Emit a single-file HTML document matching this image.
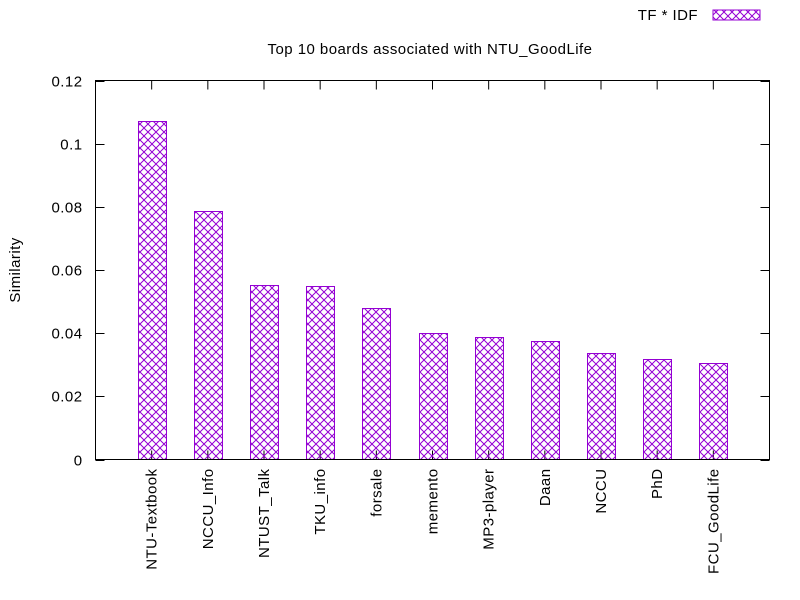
<!DOCTYPE html>
<html><head><meta charset="utf-8"><style>
body{margin:0;background:#fff}
svg{display:block}
text{font-family:"Liberation Sans",sans-serif;font-size:15px;letter-spacing:0.45px;fill:#000}
</style></head><body>
<svg id="chart" width="800" height="600" xmlns="http://www.w3.org/2000/svg">
<defs>
<pattern id="hatch" patternUnits="userSpaceOnUse" width="8" height="8">
<path d="M0,0 L8,8 M8,0 L0,8" stroke="#9400d3" stroke-width="1" fill="none"/>
</pattern>
</defs>
<text x="430" y="54" text-anchor="middle">Top 10 boards associated with NTU_GoodLife</text>
<text transform="translate(20,270) rotate(-90)" text-anchor="middle">Similarity</text>
<g>
<text x="698" y="20" text-anchor="end">TF * IDF</text>
<rect x="713" y="10" width="47" height="10" fill="url(#hatch)" stroke="#9400d3"/>
</g>
<g id="axes"></g>
<g id="bars"></g>
<rect x="95.5" y="80.5" width="674" height="379" fill="none" stroke="#000"/>
</svg>
<script>
const categories=["NTU-Textbook","NCCU_Info","NTUST_Talk","TKU_info","forsale","memento","MP3-player","Daan","NCCU","PhD","FCU_GoodLife"];
const values=[0.1073,0.0788,0.0551,0.0548,0.0481,0.0399,0.0389,0.0374,0.0336,0.0317,0.0307];
const yTicks=[0,0.02,0.04,0.06,0.08,0.1,0.12];
const yTickLabels=["0","0.02","0.04","0.06","0.08","0.1","0.12"];
const L=95.5,R=769.5,T=80.5,B=459.5;
const NS="http://www.w3.org/2000/svg";
function y(v){return B-(v/0.12)*(B-T);}
function x(i){return L+(i+1)*(R-L)/12;}
const axes=document.getElementById('axes'),bars=document.getElementById('bars');
function mk(t,a,p){const e=document.createElementNS(NS,t);for(const k in a)e.setAttribute(k,a[k]);p.appendChild(e);return e;}
yTicks.forEach((v,i)=>{
 const yy=Math.round(y(v))+0.5;
 const t=mk('line',{x1:L,x2:L+9,y1:yy,y2:yy,stroke:'#000'},axes);
 
 
 const t2=mk('line',{x1:R-9,x2:R,y1:yy,y2:yy,stroke:'#000'},axes);
 
 
 const l=mk('text',{x:L-13,y:yy+5,'text-anchor':'end'},axes);
 l.textContent=yTickLabels[i];
 
 
});
categories.forEach((c,i)=>{
 const cx=x(i);
 const t=mk('line',{x1:cx,x2:cx,y1:B,y2:B-9,stroke:'#000'},axes);
 
 
 const t2=mk('line',{x1:cx,x2:cx,y1:T,y2:T+9,stroke:'#000'},axes);
 
 
 const l=mk('text',{transform:`translate(${cx+5},${B+9}) rotate(-90)`,'text-anchor':'end'},axes);
 l.textContent=c;
 
 
 const top=Math.round(y(values[i]))+0.5;
 const b=mk('rect',{x:Math.round(cx-14)+0.5,y:top,width:28,height:B-top,fill:'url(#hatch)',stroke:'#9400d3'},bars);
 
 
});
</script>
</body></html>
